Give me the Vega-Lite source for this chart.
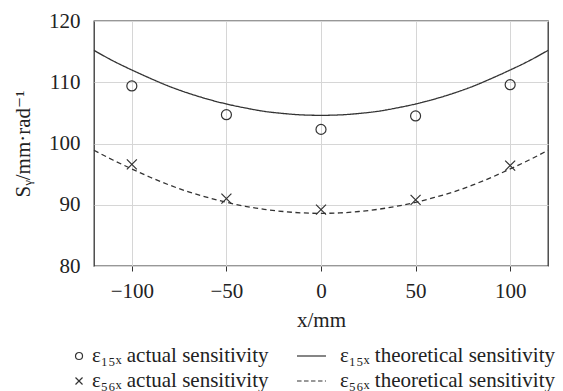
{
  "$schema": "https://vega.github.io/schema/vega-lite/v6.json",
  "width": 454,
  "height": 245,
  "autosize": {"type": "none"},
  "padding": {"left": 94, "top": 21, "right": 15, "bottom": 125},
  "background": "white",
  "config": {
    "view": {"stroke": "#333333", "strokeWidth": 1.3},
    "font": "'Liberation Serif', 'DejaVu Serif', serif",
    "axis": {
      "labelFont": "'Liberation Serif', 'DejaVu Serif', serif",
      "labelFontSize": 21,
      "labelColor": "#222222",
      "titleFont": "'Liberation Serif', 'DejaVu Serif', serif",
      "titleFontSize": 21,
      "titleFontWeight": "normal",
      "titleColor": "#222222",
      "domain": false,
      "gridColor": "#d6d6d6",
      "gridWidth": 1,
      "tickColor": "#333333"
    },
    "legend": {
      "labelFont": "'Liberation Serif', 'DejaVu Serif', serif",
      "labelFontSize": 21,
      "labelColor": "#222222",
      "labelLimit": 400
    }
  },
  "datasets": {
    "actual": [
      {"x": -100, "s": 109.4, "series": "ε₁₅ₓ actual sensitivity"},
      {"x": -50, "s": 104.7, "series": "ε₁₅ₓ actual sensitivity"},
      {"x": 0, "s": 102.3, "series": "ε₁₅ₓ actual sensitivity"},
      {"x": 50, "s": 104.5, "series": "ε₁₅ₓ actual sensitivity"},
      {"x": 100, "s": 109.6, "series": "ε₁₅ₓ actual sensitivity"},
      {"x": -100, "s": 96.6, "series": "ε₅₆ₓ actual sensitivity"},
      {"x": -50, "s": 91.0, "series": "ε₅₆ₓ actual sensitivity"},
      {"x": 0, "s": 89.2, "series": "ε₅₆ₓ actual sensitivity"},
      {"x": 50, "s": 90.8, "series": "ε₅₆ₓ actual sensitivity"},
      {"x": 100, "s": 96.4, "series": "ε₅₆ₓ actual sensitivity"}
    ],
    "theory": [
      {"x": -120, "s": 115.2, "series": "ε₁₅ₓ theoretical sensitivity"},
      {"x": -110, "s": 113.5, "series": "ε₁₅ₓ theoretical sensitivity"},
      {"x": -100, "s": 112.0, "series": "ε₁₅ₓ theoretical sensitivity"},
      {"x": -90, "s": 110.6, "series": "ε₁₅ₓ theoretical sensitivity"},
      {"x": -80, "s": 109.3, "series": "ε₁₅ₓ theoretical sensitivity"},
      {"x": -70, "s": 108.2, "series": "ε₁₅ₓ theoretical sensitivity"},
      {"x": -60, "s": 107.25, "series": "ε₁₅ₓ theoretical sensitivity"},
      {"x": -50, "s": 106.45, "series": "ε₁₅ₓ theoretical sensitivity"},
      {"x": -40, "s": 105.8, "series": "ε₁₅ₓ theoretical sensitivity"},
      {"x": -30, "s": 105.25, "series": "ε₁₅ₓ theoretical sensitivity"},
      {"x": -20, "s": 104.9, "series": "ε₁₅ₓ theoretical sensitivity"},
      {"x": -10, "s": 104.67, "series": "ε₁₅ₓ theoretical sensitivity"},
      {"x": 0, "s": 104.6, "series": "ε₁₅ₓ theoretical sensitivity"},
      {"x": 10, "s": 104.67, "series": "ε₁₅ₓ theoretical sensitivity"},
      {"x": 20, "s": 104.9, "series": "ε₁₅ₓ theoretical sensitivity"},
      {"x": 30, "s": 105.25, "series": "ε₁₅ₓ theoretical sensitivity"},
      {"x": 40, "s": 105.8, "series": "ε₁₅ₓ theoretical sensitivity"},
      {"x": 50, "s": 106.45, "series": "ε₁₅ₓ theoretical sensitivity"},
      {"x": 60, "s": 107.25, "series": "ε₁₅ₓ theoretical sensitivity"},
      {"x": 70, "s": 108.2, "series": "ε₁₅ₓ theoretical sensitivity"},
      {"x": 80, "s": 109.3, "series": "ε₁₅ₓ theoretical sensitivity"},
      {"x": 90, "s": 110.6, "series": "ε₁₅ₓ theoretical sensitivity"},
      {"x": 100, "s": 112.0, "series": "ε₁₅ₓ theoretical sensitivity"},
      {"x": 110, "s": 113.5, "series": "ε₁₅ₓ theoretical sensitivity"},
      {"x": 120, "s": 115.2, "series": "ε₁₅ₓ theoretical sensitivity"},
      {"x": -120, "s": 98.9, "series": "ε₅₆ₓ theoretical sensitivity"},
      {"x": -110, "s": 97.3, "series": "ε₅₆ₓ theoretical sensitivity"},
      {"x": -100, "s": 95.85, "series": "ε₅₆ₓ theoretical sensitivity"},
      {"x": -90, "s": 94.45, "series": "ε₅₆ₓ theoretical sensitivity"},
      {"x": -80, "s": 93.2, "series": "ε₅₆ₓ theoretical sensitivity"},
      {"x": -70, "s": 92.1, "series": "ε₅₆ₓ theoretical sensitivity"},
      {"x": -60, "s": 91.2, "series": "ε₅₆ₓ theoretical sensitivity"},
      {"x": -50, "s": 90.4, "series": "ε₅₆ₓ theoretical sensitivity"},
      {"x": -40, "s": 89.75, "series": "ε₅₆ₓ theoretical sensitivity"},
      {"x": -30, "s": 89.25, "series": "ε₅₆ₓ theoretical sensitivity"},
      {"x": -20, "s": 88.9, "series": "ε₅₆ₓ theoretical sensitivity"},
      {"x": -10, "s": 88.67, "series": "ε₅₆ₓ theoretical sensitivity"},
      {"x": 0, "s": 88.6, "series": "ε₅₆ₓ theoretical sensitivity"},
      {"x": 10, "s": 88.67, "series": "ε₅₆ₓ theoretical sensitivity"},
      {"x": 20, "s": 88.9, "series": "ε₅₆ₓ theoretical sensitivity"},
      {"x": 30, "s": 89.25, "series": "ε₅₆ₓ theoretical sensitivity"},
      {"x": 40, "s": 89.75, "series": "ε₅₆ₓ theoretical sensitivity"},
      {"x": 50, "s": 90.4, "series": "ε₅₆ₓ theoretical sensitivity"},
      {"x": 60, "s": 91.2, "series": "ε₅₆ₓ theoretical sensitivity"},
      {"x": 70, "s": 92.1, "series": "ε₅₆ₓ theoretical sensitivity"},
      {"x": 80, "s": 93.2, "series": "ε₅₆ₓ theoretical sensitivity"},
      {"x": 90, "s": 94.45, "series": "ε₅₆ₓ theoretical sensitivity"},
      {"x": 100, "s": 95.85, "series": "ε₅₆ₓ theoretical sensitivity"},
      {"x": 110, "s": 97.3, "series": "ε₅₆ₓ theoretical sensitivity"},
      {"x": 120, "s": 98.9, "series": "ε₅₆ₓ theoretical sensitivity"}
    ]
  },
  "encoding": {
    "x": {
      "field": "x",
      "type": "quantitative",
      "scale": {"domain": [-120, 120], "nice": false, "zero": false},
      "axis": {
        "title": "x/mm",
        "values": [-100, -50, 0, 50, 100],
        "tickSize": 5,
        "labelPadding": 9,
        "titlePadding": 8
      }
    },
    "y": {
      "field": "s",
      "type": "quantitative",
      "scale": {"domain": [80, 120], "nice": false, "zero": false},
      "axis": {
        "title": "Sᵧ/mm·rad⁻¹",
        "values": [80, 90, 100, 110, 120],
        "ticks": false,
        "tickSize": 0,
        "labelPadding": 14,
        "titlePadding": 15
      }
    }
  },
  "layer": [
    {
      "data": {"name": "theory"},
      "mark": {"type": "line", "stroke": "#333333", "strokeWidth": 1.3, "interpolate": "monotone"},
      "encoding": {
        "detail": {"field": "series"},
        "strokeDash": {
          "field": "series",
          "type": "nominal",
          "scale": {
            "domain": ["ε₁₅ₓ theoretical sensitivity", "ε₅₆ₓ theoretical sensitivity"],
            "range": [[1, 0], [5, 3.5]]
          },
          "legend": null
        }
      }
    },
    {
      "data": {"name": "actual"},
      "mark": {"type": "point", "filled": false, "stroke": "#333333", "strokeWidth": 1.2, "size": 100, "opacity": 1},
      "encoding": {
        "shape": {
          "field": "series",
          "type": "nominal",
          "scale": {
            "domain": ["ε₁₅ₓ actual sensitivity", "ε₅₆ₓ actual sensitivity"],
            "range": ["circle", "M-1,-1L1,1M-1,1L1,-1"]
          },
          "legend": null
        }
      }
    },
    {
      "data": {"name": "actual"},
      "mark": {"type": "point", "filled": false, "stroke": "#333333", "strokeWidth": 1.2, "opacity": 0},
      "encoding": {
        "shape": {
          "field": "series",
          "type": "nominal",
          "scale": {
            "domain": ["ε₁₅ₓ actual sensitivity", "ε₅₆ₓ actual sensitivity", "ε₁₅ₓ theoretical sensitivity", "ε₅₆ₓ theoretical sensitivity"],
            "range": [
              "M0.27,0A0.27,0.27 0 1,0 0.81,0A0.27,0.27 0 1,0 0.27,0",
              "M0.27,-0.27L0.81,0.27M0.27,0.27L0.81,-0.27",
              "M-1.77,0L0.46,0",
              "M-1.77,0L-1.42,0M-1.23,0L-0.88,0M-0.69,0L-0.35,0M-0.15,0L0.19,0M0.38,0L0.46,0"
            ]
          },
          "legend": {
            "title": null,
            "orient": "none",
            "legendX": -36,
            "legendY": 321,
            "columns": 2,
            "columnPadding": 25,
            "rowPadding": 1,
            "padding": 0,
            "symbolSize": 676,
            "symbolStrokeWidth": 1.2,
            "symbolStrokeColor": "#333333",
            "symbolFillColor": "transparent",
            "symbolOpacity": 1,
            "labelOffset": 6,
            "encode": {
              "symbols": {"update": {"opacity": {"value": 1}, "strokeOpacity": {"value": 1}, "stroke": {"value": "#333333"}}}
            }
          }
        }
      }
    }
  ],
  "resolve": {"scale": {"shape": "independent"}, "legend": {"shape": "independent"}}
}
